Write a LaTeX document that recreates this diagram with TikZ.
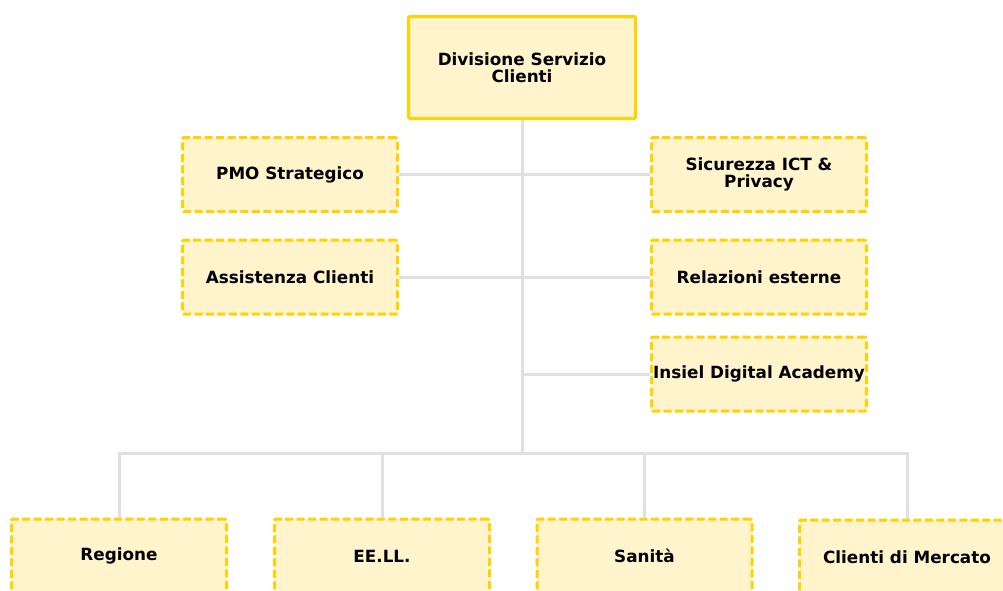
\documentclass[tikz,border=0pt]{standalone}
\usepackage{fontspec}
\setmainfont{DejaVu Sans}
\definecolor{boxfill}{RGB}{255,244,204}
\definecolor{boxline}{RGB}{255,210,0}
\definecolor{linkgray}{RGB}{224,224,224}
\tikzset{
    unit/.style={draw=boxline, fill=boxfill, line width=2.25pt, rounded corners=1pt,
        minimum width=161.25pt, minimum height=55.5pt, inner sep=1pt, align=center,
        font=\bfseries\fontsize{12.6}{13}\selectfont},
    head/.style={unit, minimum width=170.25pt, minimum height=76.5pt},
    staff/.style={unit, dash pattern=on 6pt off 2.6pt},
    link/.style={draw=linkgray, line width=2.25pt},
}
\begin{document}
\begin{tikzpicture}[x=0.75pt, y=-0.75pt]
    \useasboundingbox (0, 0) rectangle (1003, 590);
    \clip (0, 0) rectangle (1003, 590);

    \node[head] (div) at (522, 67.5) {Divisione Servizio\\Clienti};

    \node[staff] (pmo) at (290, 174.5) {PMO Strategico};
    \node[staff] (acl) at (290, 277) {Assistenza Clienti};
    \node[staff] (sic) at (759, 174.5) {Sicurezza ICT \&\\Privacy};
    \node[staff] (rel) at (759, 277) {Relazioni esterne};
    \node[staff] (ida) at (759, 374) {Insiel Digital Academy};

    \node[staff] (reg) at (119, 556) {Regione};
    \node[staff] (eel) at (382, 556) {EE.LL.};
    \node[staff] (san) at (644.5, 556) {Sanità};
    \node[staff] (cdm) at (907, 557) {Clienti di Mercato};

    \coordinate (bus) at (522, 453);

    \draw[link] (div.south) -- (bus);
    \draw[link] (pmo.east) -- (sic.west);
    \draw[link] (acl.east) -- (rel.west);
    \draw[link] (ida.west) -- (ida.west -| bus);
    \draw[link] (reg.north) |- (bus) -| (cdm.north);
    \draw[link] (eel.north) -- (eel.north |- bus);
    \draw[link] (san.north) -- (san.north |- bus);
\end{tikzpicture}
\end{document}
